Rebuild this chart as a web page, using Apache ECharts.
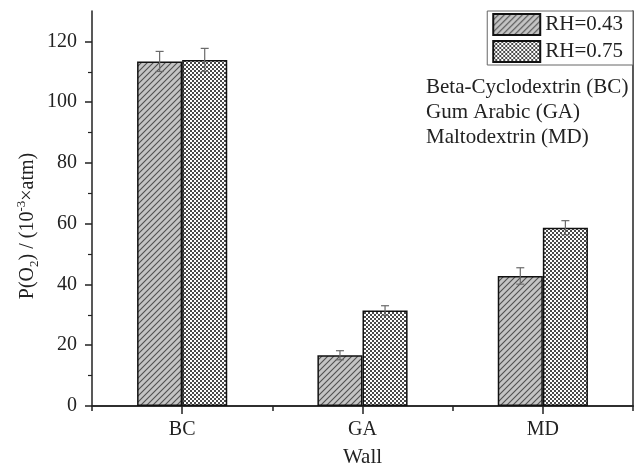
<!DOCTYPE html>
<html><head><meta charset="utf-8">
<script src="https://cdn.jsdelivr.net/npm/echarts@6/dist/echarts.min.js"></script>
<style>html,body{margin:0;padding:0;background:#fff}#c{width:640px;height:469px}</style>
</head><body><div id="c"></div>
<script>
const categories = ['BC', 'GA', 'MD'];
const seriesNames = ['RH=0.43', 'RH=0.75'];
const rh043 = [113.4, 16.7, 42.8];
const rh075 = [113.9, 31.4, 58.7];
const err043 = [3.3, 1.5, 2.7];
const err075 = [3.8, 1.6, 2.3];
const yMajorTicks = [0, 20, 40, 60, 80, 100, 120];
const yMinorTicks = [10, 30, 50, 70, 90, 110];
const notes = ['Beta-Cyclodextrin (BC)', 'Gum Arabic (GA)', 'Maltodextrin (MD)'];
const xName = 'Wall';

const FONT = '"Liberation Serif", "Times New Roman", serif';
const INK = '#222';

function hatchCanvas() {
  const c = document.createElement('canvas'); c.width = 6; c.height = 6;
  const g = c.getContext('2d');
  g.fillStyle = '#c4c4c4'; g.fillRect(0, 0, 6, 6);
  g.strokeStyle = '#505050'; g.lineWidth = 1.1;
  g.beginPath();
  g.moveTo(-1, 7); g.lineTo(7, -1);
  g.moveTo(-1, 1); g.lineTo(1, -1);
  g.moveTo(5, 7); g.lineTo(7, 5);
  g.stroke();
  return c;
}
function checkCanvas() {
  const c = document.createElement('canvas'); c.width = 4; c.height = 4;
  const g = c.getContext('2d');
  g.fillStyle = '#ffffff'; g.fillRect(0, 0, 4, 4);
  g.fillStyle = '#4a4a4a'; g.fillRect(0, 0, 2, 2); g.fillRect(2, 2, 2, 2);
  return c;
}
const hatch = { image: hatchCanvas(), repeat: 'repeat' };
const check = { image: checkCanvas(), repeat: 'repeat' };

const errData = [];
categories.forEach((c, i) => {
  errData.push([i, rh043[i] - err043[i], rh043[i] + err043[i], 0]);
  errData.push([i, rh075[i] - err075[i], rh075[i] + err075[i], 1]);
});

const chart = echarts.init(document.getElementById('c'));
const G = { left: 92, right: 7, top: 11, bottom: 63, outerBoundsMode: 'none' };
const axisLine = { show: true, lineStyle: { color: INK, width: 1.5 } };

chart.setOption({
  animation: false,
  backgroundColor: '#fff',
  grid: [Object.assign({}, G), Object.assign({}, G)],
  legend: {
    data: seriesNames,
    orient: 'vertical', right: 7, top: 11,
    itemWidth: 47, itemHeight: 21, itemGap: 4,
    padding: [2, 10, 2, 5],
    icon: 'rect',
    borderColor: '#666', borderWidth: 1, backgroundColor: '#fff',
    textStyle: { fontFamily: FONT, fontSize: 21, color: INK },
    selectedMode: false
  },
  xAxis: [
    { type: 'category', data: categories, gridIndex: 0, position: 'bottom',
      axisLine: axisLine,
      axisTick: { show: true, alignWithLabel: true, length: 8, lineStyle: { color: INK, width: 1.5 } },
      axisLabel: { fontFamily: FONT, fontSize: 20, color: INK, margin: 14 },
      name: xName, nameLocation: 'middle', nameGap: 41,
      nameTextStyle: { fontFamily: FONT, fontSize: 21, color: INK } },
    { type: 'category', data: categories, gridIndex: 0, position: 'top',
      axisLine: axisLine, axisTick: { show: false }, axisLabel: { show: false } },
    { type: 'category', data: categories, gridIndex: 1, position: 'bottom',
      axisLine: { show: false },
      axisTick: { show: true, length: 5, lineStyle: { color: INK, width: 1.5 } },
      axisLabel: { show: false } }
  ],
  yAxis: [
    { type: 'value', gridIndex: 0, min: 0, max: 130, position: 'left',
      splitLine: { show: false },
      axisLine: axisLine,
      axisTick: { show: true, length: 7, customValues: yMajorTicks, lineStyle: { color: INK, width: 1.5 } },
      axisLabel: { fontFamily: FONT, fontSize: 20, color: INK, margin: 15, customValues: yMajorTicks } },
    { type: 'value', gridIndex: 0, min: 0, max: 130, position: 'right',
      splitLine: { show: false }, axisLine: axisLine,
      axisTick: { show: false }, axisLabel: { show: false } },
    { type: 'value', gridIndex: 1, min: 0, max: 130, position: 'left',
      splitLine: { show: false }, axisLine: { show: false },
      axisTick: { show: true, length: 4, customValues: yMinorTicks, lineStyle: { color: INK, width: 1.2 } },
      axisLabel: { show: false } }
  ],
  series: [
    { name: seriesNames[0], type: 'bar', xAxisIndex: 0, yAxisIndex: 0, data: rh043,
      barWidth: '25%', barGap: '0%',
      itemStyle: { color: hatch, borderColor: '#111', borderWidth: 1.5 } },
    { name: seriesNames[1], type: 'bar', xAxisIndex: 0, yAxisIndex: 0, data: rh075,
      barWidth: '25%', barGap: '0%',
      itemStyle: { color: check, borderColor: '#111', borderWidth: 1.5 } },
    { type: 'custom', xAxisIndex: 0, yAxisIndex: 0, data: errData, z: 5,
      renderItem: function (params, api) {
        const ci = api.value(0), lo = api.value(1), hi = api.value(2), si = api.value(3);
        const bw = api.size([1, 0])[0] * 0.25;
        const xc = api.coord([ci, 0])[0] + (si === 0 ? -bw / 2 : bw / 2);
        const yLo = api.coord([ci, lo])[1], yHi = api.coord([ci, hi])[1];
        const cap = 4;
        const st = { stroke: '#6a6a6a', lineWidth: 1.2 };
        return { type: 'group', children: [
          { type: 'line', shape: { x1: xc, y1: yHi, x2: xc, y2: yLo }, style: st },
          { type: 'line', shape: { x1: xc - cap, y1: yHi, x2: xc + cap, y2: yHi }, style: st },
          { type: 'line', shape: { x1: xc - cap, y1: yLo, x2: xc + cap, y2: yLo }, style: st }
        ] };
      } }
  ],
  graphic: [
    { type: 'text', x: 28, y: 226, rotation: Math.PI / 2,
      style: {
        text: 'P(O{sub|2}) / (10{sup|-3}×atm)',
        font: '20px ' + FONT, fill: INK, align: 'center', verticalAlign: 'middle',
        rich: {
          sub: { fontSize: 13, fontFamily: FONT, verticalAlign: 'bottom', lineHeight: 14 },
          sup: { fontSize: 13, fontFamily: FONT, verticalAlign: 'top', lineHeight: 14 }
        },
        lineHeight: 26
      } },
    { type: 'text', left: 426, top: 77, style: { text: notes[0], font: '21px ' + FONT, fill: INK } },
    { type: 'text', left: 426, top: 102, style: { text: notes[1], font: '21px ' + FONT, fill: INK } },
    { type: 'text', left: 426, top: 127, style: { text: notes[2], font: '21px ' + FONT, fill: INK } }
  ]
});
</script>
</body></html>
